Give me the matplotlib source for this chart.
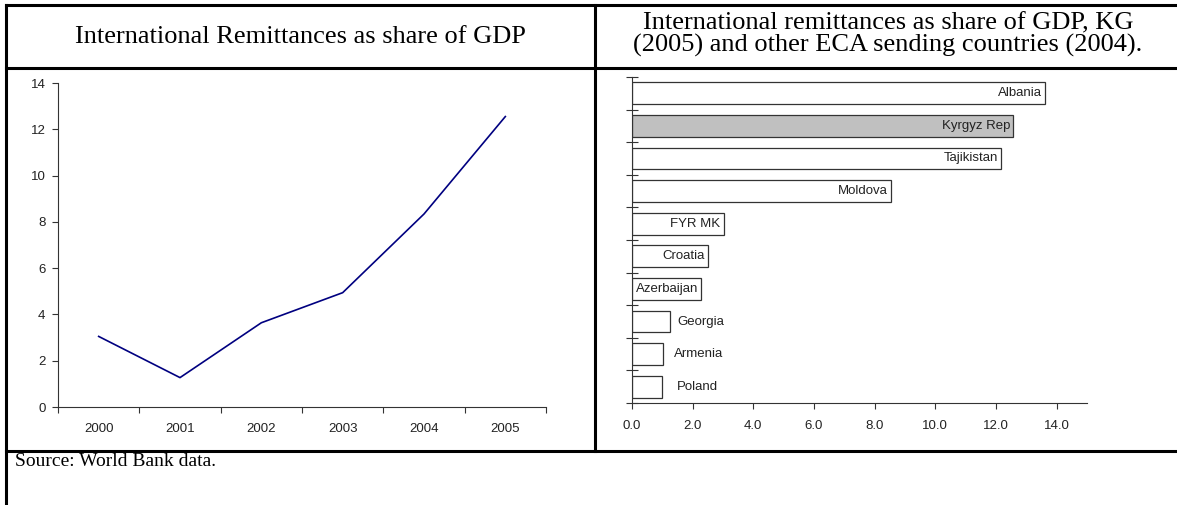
import matplotlib
matplotlib.use("Agg")
import matplotlib.pyplot as plt
from matplotlib.lines import Line2D

# --- data ---
years = ["2000", "2001", "2002", "2003", "2004", "2005"]
remit_share = [3.05, 1.27, 3.64, 4.94, 8.34, 12.55]

countries = ["Poland", "Armenia", "Georgia", "Azerbaijan", "Croatia",
             "FYR MK", "Moldova", "Tajikistan", "Kyrgyz Rep", "Albania"]
country_share = [0.99, 1.03, 1.25, 2.27, 2.5, 3.02, 8.54, 12.17, 12.57, 13.6]
highlight = "Kyrgyz Rep"

left_title = "International Remittances as share of GDP"
right_title = ("International remittances as share of GDP, KG\n"
               "(2005) and other ECA sending countries (2004).")
source_note = "Source: World Bank data."

# --- figure geometry (pixels) ---
W, H = 1177, 505
fig = plt.figure(figsize=(W / 100, H / 100), dpi=100)


def fx(x):
    return x / W


def fy(y):
    return 1 - y / H


SERIF = "Liberation Serif"
SANS = "Liberation Sans"
AX_COLOR = "#333333"
TICK_FS = 9.5

# table borders
border_kw = dict(color="black", lw=2.2, transform=fig.transFigure)
for y in (5, 68, 451):
    fig.add_artist(Line2D([fx(6), fx(1177)], [fy(y), fy(y)], **border_kw))
fig.add_artist(Line2D([fx(6), fx(6)], [fy(5), fy(505)], **border_kw))
fig.add_artist(Line2D([fx(595), fx(595)], [fy(5), fy(451)], **border_kw))

# titles and note
fig.text(fx(300), fy(37), left_title, ha="center", va="center",
         family=SERIF, fontsize=19)
fig.text(fx(888), fy(34.5), right_title, ha="center", va="center",
         family=SERIF, fontsize=19, linespacing=1.0)
fig.text(fx(15), fy(462), source_note, ha="left", va="center",
         family=SERIF, fontsize=14)

# --- left panel: line chart ---
ax1 = fig.add_axes([fx(58), fy(407), fx(546 - 58), (407 - 83) / H])
ax1.plot(range(len(years)), remit_share, color="#000080", lw=1.2)
ax1.set_xlim(-0.5, len(years) - 0.5)
ax1.set_ylim(0, 14)
ax1.set_yticks(range(0, 15, 2))
ax1.set_xticks([i - 0.5 for i in range(len(years) + 1)])
ax1.set_xticklabels([])
ax1.set_xticks(range(len(years)), minor=True)
ax1.set_xticklabels(years, minor=True)
ax1.tick_params(axis="x", which="major", length=4, width=0.8,
                color=AX_COLOR, direction="out")
ax1.tick_params(axis="x", which="minor", length=0, pad=11.5,
                labelsize=TICK_FS, labelcolor="#222222")
ax1.tick_params(axis="y", length=4, width=0.8, color=AX_COLOR, pad=5,
                labelsize=TICK_FS, labelcolor="#222222")
for s in ("top", "right"):
    ax1.spines[s].set_visible(False)
for s in ("left", "bottom"):
    ax1.spines[s].set_color(AX_COLOR)
    ax1.spines[s].set_linewidth(0.8)
for lab in ax1.get_xticklabels(minor=True) + ax1.get_yticklabels():
    lab.set_family(SANS)

# --- right panel: horizontal bars ---
ax2 = fig.add_axes([fx(632), fy(403), fx(1087 - 632), (403 - 77) / H])
colors = ["#c0c0c0" if c == highlight else "white" for c in countries]
bars = ax2.barh(range(len(countries)), country_share, height=0.67,
                color=colors, edgecolor="#333333", linewidth=0.9)
ax2.set_xlim(0, 15)
ax2.set_ylim(-0.5, len(countries) - 0.5)
ax2.set_xticks(range(0, 15, 2))
ax2.set_xticklabels([f"{v:.1f}" for v in range(0, 15, 2)])
ax2.set_yticks([i - 0.5 for i in range(len(countries) + 1)])
ax2.set_yticklabels([])
ax2.tick_params(axis="y", length=9, width=0.8, color=AX_COLOR,
                direction="inout")
ax2.tick_params(axis="x", length=4, width=0.8, color=AX_COLOR, pad=8.5,
                labelsize=TICK_FS, labelcolor="#222222")
for s in ("top", "right"):
    ax2.spines[s].set_visible(False)
for s in ("left", "bottom"):
    ax2.spines[s].set_color(AX_COLOR)
    ax2.spines[s].set_linewidth(0.8)
for lab in ax2.get_xticklabels():
    lab.set_family(SANS)

# labels: inside the bar end when they fit, otherwise just outside
outside_pad = {"Georgia": 7, "Armenia": 11, "Poland": 15}
for i, (name, val) in enumerate(zip(countries, country_share)):
    if name in outside_pad:
        ax2.annotate(name, (val, i), xytext=(outside_pad[name], 0),
                     textcoords="offset pixels", ha="left", va="center",
                     family=SANS, fontsize=TICK_FS, color="#222222")
    else:
        ax2.annotate(name, (val, i), xytext=(-3, 0),
                     textcoords="offset pixels", ha="right", va="center",
                     family=SANS, fontsize=TICK_FS, color="#222222")

fig.savefig("out.png", dpi=100)
